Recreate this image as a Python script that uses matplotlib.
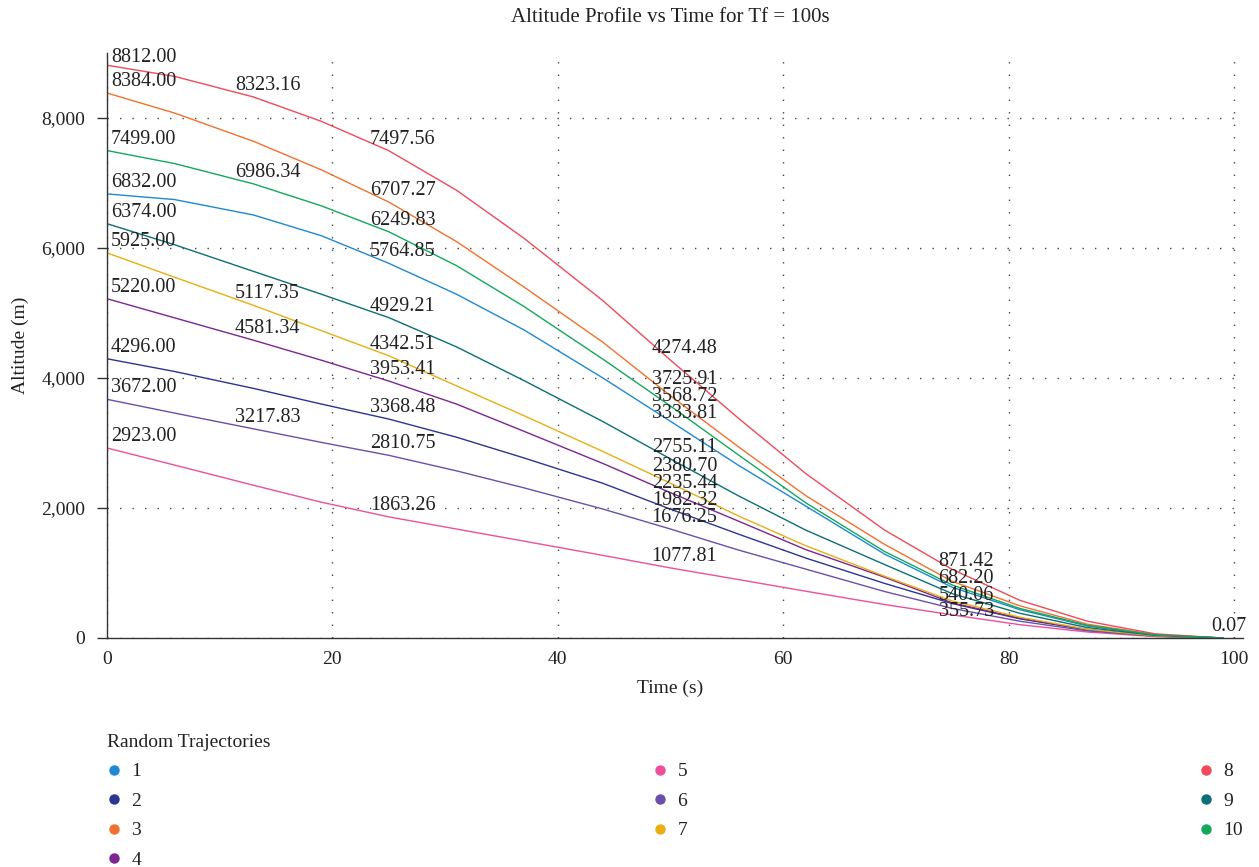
import matplotlib
matplotlib.use("Agg")
import matplotlib.pyplot as plt
from matplotlib.lines import Line2D
from matplotlib.ticker import FuncFormatter

plt.rcParams['font.family'] = ['Liberation Serif', 'DejaVu Serif']

# time nodes (s) and altitude of each random trajectory (m)
times = [0, 6, 13, 19, 25, 31, 37, 44, 50, 56, 62, 69, 75, 81, 87, 93, 99]

alt_1 = [6832, 6745, 6508, 6190, 5764.85, 5290, 4740, 4000, 3333.81, 2660, 2030, 1290, 780, 435, 185, 45, 0.07]
alt_2 = [4296, 4100, 3840, 3600, 3368.48, 3090, 2770, 2380, 1982.32, 1600, 1230, 840, 530, 295, 125, 30, 0.07]
alt_3 = [8384, 8076, 7641, 7204, 6707.27, 6100, 5400, 4550, 3725.91, 2945, 2190, 1440, 871.42, 495, 212, 52, 0.07]
alt_4 = [5220, 4925, 4581.34, 4275, 3953.41, 3600, 3180, 2685, 2235.44, 1800, 1360, 935, 540.06, 305, 128, 31, 0.07]
alt_5 = [2923, 2660, 2350, 2090, 1863.26, 1677, 1490, 1271, 1077.81, 900, 720, 515, 355.73, 205, 92, 22, 0.07]
alt_6 = [3672, 3460, 3217.83, 3010, 2810.75, 2572, 2310, 1984, 1676.25, 1355, 1060, 715, 455, 258, 110, 27, 0.07]
alt_7 = [5925, 5550, 5117.35, 4730, 4342.51, 3880, 3420, 2870, 2380.70, 1880, 1420, 950, 570, 320, 135, 32, 0.07]
alt_8 = [8812, 8640, 8323.16, 7950, 7497.56, 6890, 6150, 5190, 4274.48, 3385, 2530, 1660, 1055, 580, 258, 64, 0.07]
alt_9 = [6374, 6050, 5640, 5290, 4929.21, 4480, 3960, 3330, 2755.11, 2190, 1660, 1130, 682.20, 380, 160, 40, 0.07]
alt_10 = [7499, 7299, 6986.34, 6650, 6249.83, 5730, 5100, 4290, 3568.72, 2820, 2080, 1330, 815, 455, 195, 48, 0.07]

names = ['1', '2', '3', '4', '5', '6', '7', '8', '9', '10']
series = [alt_1, alt_2, alt_3, alt_4, alt_5, alt_6, alt_7, alt_8, alt_9, alt_10]
colors = ['#1f88d2', '#2b3592', '#f2702f', '#7d2590', '#ec4f9c',
          '#6b50a9', '#e8ae12', '#ef4a5a', '#0b6f78', '#13a85a']

# which trajectories show a value label at which time node
label_times = [0, 13, 25, 50, 75, 99]
label_series = [[1, 2, 3, 4, 5, 6, 7, 8, 9, 10],
                [8, 10, 7, 4, 6],
                [1, 2, 3, 4, 5, 6, 7, 8, 9, 10],
                [1, 2, 3, 4, 5, 6, 7, 8, 9, 10],
                [3, 9, 4, 5],
                [8]]

txt = '#222222'

fig = plt.figure(figsize=(12.59, 8.67), dpi=100)
ax = fig.add_axes([107 / 1259, 229 / 867, 1136 / 1259, 585 / 867])

for name, vals, c in zip(names, series, colors):
    ax.plot(times, vals, color=c, lw=1.0, label=name)

ax.set_xlim(0, 100.8)
ax.set_ylim(0, 9000)
ax.set_xticks([0, 20, 40, 60, 80, 100])
ax.set_yticks([0, 2000, 4000, 6000, 8000])
ax.yaxis.set_major_formatter(FuncFormatter(lambda v, p: f'{v:,.0f}'))
for s in ['top', 'right']:
    ax.spines[s].set_visible(False)
for s in ['left', 'bottom']:
    ax.spines[s].set_color('#333333')
    ax.spines[s].set_linewidth(1.0)
ax.tick_params(axis='y', length=7.5, width=1, color='#333333', pad=8, labelsize=14, labelcolor=txt)
ax.tick_params(axis='x', length=0, pad=9, labelsize=14, labelcolor=txt)
ax.grid(True, color='#444444', linestyle=(0, (1, 8)), linewidth=1.0)
ax.set_axisbelow(True)

ax.set_xlabel('Time (s)', fontsize=14, color=txt, va='center')
ax.xaxis.set_label_coords(0.496, -50 / 585)
ax.set_ylabel('Altitude (m)', fontsize=14, color=txt, va='center')
ax.yaxis.set_label_coords(-87 / 1136, 0.5)

fig.text(670 / 1259, 1 - 17 / 867, 'Altitude Profile vs Time for Tf = 100s',
         ha='center', va='center', fontsize=15, color=txt)

# value labels: a little above the point, pushed apart when they collide
trans = ax.transData
inv = trans.inverted()
ax_top = ax.get_position().y1 * fig.get_figheight() * fig.dpi
gap = 16.8
for g, (t, ids) in enumerate(zip(label_times, label_series)):
    k = times.index(t)
    items = []
    for i in ids:
        v = series[i - 1][k]
        xd, yd = trans.transform((t, v))
        items.append((yd + 7, v, xd))
    items.sort(key=lambda it: -it[0])
    ys = [it[0] for it in items]
    for _ in range(300):
        for j in range(len(ys) - 1):
            d = ys[j] - ys[j + 1]
            if d < gap:
                m = (gap - d) / 2
                ys[j] += m
                ys[j + 1] -= m
    if ys[0] > ax_top - 9:
        ys[0] = ax_top - 9
        for j in range(1, len(ys)):
            ys[j] = min(ys[j], ys[j - 1] - gap)
    if g == 0:
        ha, dx = 'left', 4
    elif g == len(label_times) - 1:
        ha, dx = 'center', 6
    else:
        ha, dx = 'center', 14
    for y, (_, v, xd) in zip(ys, items):
        x, yv = inv.transform((xd + dx, y))
        ax.text(x, yv, f'{v:.2f}', ha=ha, va='baseline', fontsize=14.5,
                color=txt, clip_on=False)

handles = [Line2D([], [], marker='o', linestyle='none', markersize=6.5,
                  color=c, markeredgecolor=c) for c in colors]
leg = fig.legend(handles, names, title='Random Trajectories', loc='upper left',
                 bbox_to_anchor=(107 / 1259, 133 / 867, 1136 / 1259, 0),
                 mode='expand', ncol=3, frameon=False, fontsize=14,
                 title_fontsize=14, alignment='left', borderpad=0,
                 borderaxespad=0, handlelength=0.7, handletextpad=0.55,
                 labelspacing=0.61)
for tx in leg.get_texts():
    tx.set_color(txt)
leg.get_title().set_color(txt)

fig.savefig('out.png', dpi=100)
